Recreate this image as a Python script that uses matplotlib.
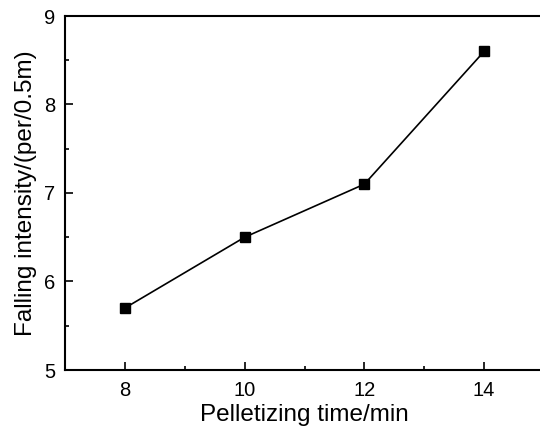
import matplotlib.pyplot as plt
from matplotlib.ticker import MultipleLocator

plt.rcParams['font.family'] = ['Liberation Sans', 'DejaVu Sans']

# data
time_min = [8, 10, 12, 14]
intensity = [5.7, 6.5, 7.1, 8.6]

fig = plt.figure(figsize=(5.4, 4.36), dpi=100)
ax = fig.add_axes([65 / 540, 66 / 436, 479 / 540, 354 / 436])

ax.plot(time_min, intensity, color='black', linewidth=1.2,
        marker='s', markersize=7, markerfacecolor='black')

ax.set_xlim(7, 15)
ax.set_ylim(5, 9)
ax.xaxis.set_major_locator(MultipleLocator(2))
ax.xaxis.set_minor_locator(MultipleLocator(1))
ax.yaxis.set_major_locator(MultipleLocator(1))
ax.yaxis.set_minor_locator(MultipleLocator(0.5))
ax.tick_params(which='both', direction='in', top=False, right=False, labelsize=14.5)
ax.tick_params(which='major', length=6, width=1.2)
ax.tick_params(which='minor', length=3, width=1.2)
ax.tick_params(axis='x', pad=8)
ax.tick_params(axis='y', pad=7)
for s in ax.spines.values():
    s.set_linewidth(1.5)

ax.set_xlabel('Pelletizing time/min', fontsize=17.5, labelpad=3)
ax.set_ylabel('Falling intensity/(per/0.5m)', fontsize=17.5, labelpad=5)

fig.savefig('out.png', dpi=100)
